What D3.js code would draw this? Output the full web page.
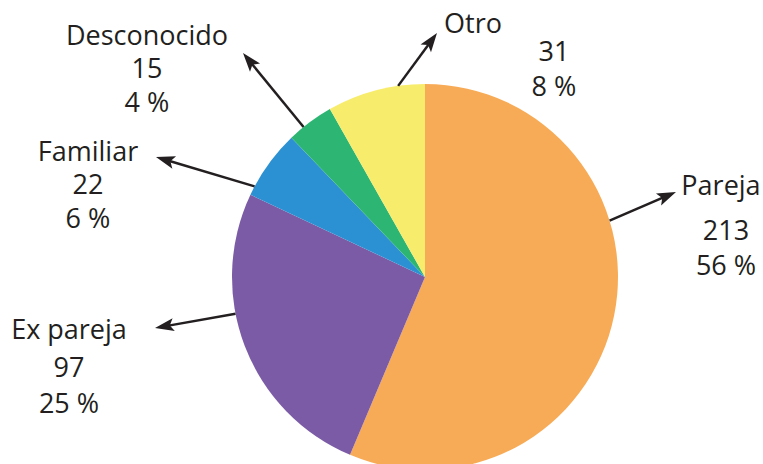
<!DOCTYPE html>
<html>
<head>
<meta charset="utf-8">
<script src="https://cdn.jsdelivr.net/npm/d3@7"></script>
<style>
  body { margin: 0; background: #fff; }
  text { font-family: "Open Sans", "Noto Sans", sans-serif; fill: #231f20; }
</style>
</head>
<body>
<svg id="canvas" width="763" height="464"></svg>
<script>
// data
let categories = ['Pareja', 'Ex pareja', 'Familiar', 'Desconocido', 'Otro']
let values = [213, 97, 22, 15, 31]
let percents = [56, 25, 6, 4, 8]
let colors = ['#f8ab56', '#7b5ba6', '#2b91d3', '#2db673', '#f8ec6c']

// where the labels sit and where each arrow leaves the pie
let labelPos = [
  { arrowAngle: 73, tip: [676, 192], name: [721, 195], val: [726, 240], pct: [726, 275] },
  { arrowAngle: 259, tip: [155, 328], name: [69, 339], val: [69, 377], pct: [69, 413] },
  { arrowAngle: 298, tip: [156, 157], name: [88, 161], val: [88, 194], pct: [88, 228] },
  { arrowAngle: 321, tip: [243, 53], name: [147, 45], val: [147, 78], pct: [147, 112] },
  { arrowAngle: 352, tip: [437, 33], name: [473, 33], val: [554, 61], pct: [554, 96] }
]

let cx = 425, cy = 277, radius = 193

let canvas = d3.select('#canvas')

canvas.append('defs').append('marker')
  .attr('id', 'arrow')
  .attr('markerUnits', 'userSpaceOnUse')
  .attr('markerWidth', 22)
  .attr('markerHeight', 16)
  .attr('viewBox', '-11 -8 22 16')
  .attr('refX', 1)
  .attr('refY', 0)
  .attr('orient', 'auto')
  .append('path')
  .attr('d', 'M-10,-6.5 L9,0 L-10,6.5 L-6,0 Z')
  .attr('fill', '#231f20')

let pie = d3.pie().sort(null).value(d => d)
let arc = d3.arc().innerRadius(0).outerRadius(radius)

let g = canvas.append('g').attr('transform', `translate(${cx},${cy})`)

g.selectAll('path')
  .data(pie(values))
  .enter()
  .append('path')
  .attr('d', arc)
  .attr('fill', (d, i) => colors[i])

let labels = canvas.selectAll('g.label')
  .data(categories)
  .enter()
  .append('g')
  .attr('class', 'label')

labels.append('line')
  .each(function(d, i) {
    let p = labelPos[i]
    let a = p.arrowAngle * Math.PI / 180
    let x1 = cx + radius * Math.sin(a)
    let y1 = cy - radius * Math.cos(a)
    let dx = p.tip[0] - x1, dy = p.tip[1] - y1
    let len = Math.sqrt(dx * dx + dy * dy)
    // stop the line 8px short, the marker carries on to the tip
    d3.select(this)
      .attr('x1', x1).attr('y1', y1)
      .attr('x2', p.tip[0] - dx / len * 8)
      .attr('y2', p.tip[1] - dy / len * 8)
  })
  .attr('stroke', '#231f20')
  .attr('stroke-width', 2.5)
  .attr('marker-end', 'url(#arrow)')

let fontSize = 27
labels.append('text')
  .attr('x', (d, i) => labelPos[i].name[0])
  .attr('y', (d, i) => labelPos[i].name[1])
  .attr('text-anchor', 'middle')
  .attr('font-size', fontSize)
  .text(d => d)

labels.append('text')
  .attr('x', (d, i) => labelPos[i].val[0])
  .attr('y', (d, i) => labelPos[i].val[1])
  .attr('text-anchor', 'middle')
  .attr('font-size', fontSize)
  .text((d, i) => values[i])

labels.append('text')
  .attr('x', (d, i) => labelPos[i].pct[0])
  .attr('y', (d, i) => labelPos[i].pct[1])
  .attr('text-anchor', 'middle')
  .attr('font-size', fontSize)
  .text((d, i) => percents[i] + ' %')
</script>
</body>
</html>
